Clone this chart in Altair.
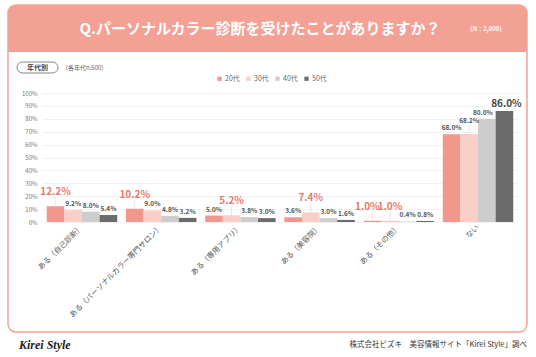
import altair as alt
import pandas as pd

categories = ["ある（自己診断）", "ある（パーソナルカラー専門サロン）", "ある（専用アプリ）",
              "ある（美容院）", "ある（その他）", "ない"]
ages = ["20代", "30代", "40代", "50代"]
v20 = [12.2, 10.2, 5.0, 3.6, 1.0, 68.0]
v30 = [9.2, 9.0, 5.2, 7.4, 1.0, 68.2]
v40 = [8.0, 4.8, 3.8, 3.0, 0.4, 80.0]
v50 = [5.4, 3.2, 3.0, 1.6, 0.8, 86.0]
colors = ["#F1978B", "#F9CEC7", "#CDCDCD", "#6B6B6B"]
y_ticks = [0, 10, 20, 30, 40, 50, 60, 70, 80, 90, 100]

title_text = "Q.パーソナルカラー診断を受けたことがありますか？"
n_text = "（N：2,000）"
tag_text = "年代別"
sub_text = "（各年代n:500）"
logo_text = "Kirei Style"
source_text = "株式会社ビズキ　美容情報サイト「Kirei Style」調べ"

FONT = "Noto Sans CJK JP"
SALMON = "#F4A195"

rows = []
series = [v20, v30, v40, v50]
for ci, cat in enumerate(categories):
    vals = [s[ci] for s in series]
    mx = max(vals)
    n_hi = sum(1 for v in vals if v == mx)
    for ai, age in enumerate(ages):
        v = vals[ai]
        hi = v == mx
        lifted = (hi and cat != "ない") or (cat == "ない" and age == "30代")
        nudge = hi and n_hi > 1 and ai == 0
        right_hi = ai < 3 and vals[ai + 1] == mx
        nudge_small = (not hi) and (not lifted) and right_hi and cat == "ない"
        rows.append({"cat": cat, "age": age, "value": v, "label": f"{v:.1f}%",
                     "hi": hi, "lifted": lifted, "nudge": nudge, "nudge_small": nudge_small,
                     "hicolor": "#444444" if age == "50代" else "#E9786C"})
df = pd.DataFrame(rows)

xenc = alt.X("cat:N", sort=categories,
             scale=alt.Scale(paddingInner=0.11, paddingOuter=0.06),
             axis=alt.Axis(title=None, labelAngle=-45, labelAlign="right", labelBaseline="middle",
                           ticks=False, domain=False, labelPadding=4, labelFontSize=7.5,
                           labelColor="#555555", labelFont=FONT, labelLimit=0, grid=False))
yenc = alt.Y("value:Q", scale=alt.Scale(domain=[0, 100]),
             axis=alt.Axis(title=None, values=y_ticks, labelExpr="datum.value + '%'",
                           ticks=False, domain=False, labelFontSize=6, labelColor="#777777",
                           labelFont=FONT, labelPadding=5, gridColor="#EEEEEE", gridWidth=0.8))
xoff = alt.XOffset("age:N", sort=ages, scale=alt.Scale(paddingInner=0, paddingOuter=0))

base = alt.Chart(df)

bars = base.mark_bar().encode(
    x=xenc, y=yenc, xOffset=xoff,
    color=alt.Color("age:N", sort=ages, scale=alt.Scale(domain=ages, range=colors),
                    legend=alt.Legend(title=None, orient="none", legendX=174, legendY=-18,
                                      direction="horizontal", symbolType="square", symbolSize=18,
                                      labelFontSize=7, labelColor="#666666", labelFont=FONT,
                                      columnPadding=5, labelOffset=2,
                                      symbolStrokeWidth=0))
)

normal = base.transform_filter("!datum.hi && !datum.lifted && !datum.nudge_small").mark_text(
    baseline="bottom", dy=-3, fontSize=6.5, fontWeight="bold", color="#555555", font=FONT
).encode(x=xenc, y=yenc, xOffset=xoff, text="label:N")

normal_nudge = base.transform_filter("datum.nudge_small").mark_text(
    baseline="bottom", dy=-3, dx=-4, fontSize=6.5, fontWeight="bold", color="#555555", font=FONT
).encode(x=xenc, y=yenc, xOffset=xoff, text="label:N")

lifted_small = base.transform_filter("datum.lifted && !datum.hi").mark_text(
    baseline="bottom", dy=-10, fontSize=6.5, fontWeight="bold", color="#555555", font=FONT
).encode(x=xenc, y=yenc, xOffset=xoff, text="label:N")

hi_lift = base.transform_filter("datum.hi && datum.lifted && !datum.nudge").mark_text(
    baseline="bottom", dy=-9, fontSize=10, fontWeight="bold", font=FONT
).encode(x=xenc, y=yenc, xOffset=xoff, text="label:N",
         color=alt.Color("hicolor:N", scale=None))

hi_nudge = base.transform_filter("datum.nudge").mark_text(
    baseline="bottom", dy=-9, dx=-5, fontSize=10, fontWeight="bold", font=FONT
).encode(x=xenc, y=yenc, xOffset=xoff, text="label:N",
         color=alt.Color("hicolor:N", scale=None))

hi_flat = base.transform_filter("datum.hi && !datum.lifted").mark_text(
    baseline="bottom", dy=-2, dx=2, fontSize=10, fontWeight="bold", font=FONT
).encode(x=xenc, y=yenc, xOffset=xoff, text="label:N",
         color=alt.Color("hicolor:N", scale=None))

leaders = base.transform_filter("datum.lifted").mark_rule(
    color="#DDDDDD", strokeWidth=0.7, y2Offset=-9
).encode(x=xenc, xOffset=xoff, y=yenc, y2="value:Q")

one = pd.DataFrame({"k": [0]})
card = alt.Chart(one).mark_rect(fill="white", fillOpacity=0, stroke=SALMON, strokeWidth=1.5, cornerRadius=8).encode(
    x=alt.value(-34), x2=alt.value(485), y=alt.value(-88), y2=alt.value(239))
header = alt.Chart(one).mark_rect(fill=SALMON, cornerRadiusTopLeft=8, cornerRadiusTopRight=8).encode(
    x=alt.value(-34), x2=alt.value(485), y=alt.value(-88), y2=alt.value(-41))
pill = alt.Chart(one).mark_rect(fill="white", stroke="#666666", strokeWidth=0.8, cornerRadius=6).encode(
    x=alt.value(-25), x2=alt.value(16), y=alt.value(-31), y2=alt.value(-20))

def txt(text, x, y, **kw):
    return alt.Chart(pd.DataFrame({"t": [text]})).mark_text(font=FONT, **kw).encode(
        x=alt.value(x), y=alt.value(y), text="t:N")

title = txt(title_text, 218, -64, fontSize=15, fontWeight="bold", color="white", align="center",
            baseline="middle")
ntext = txt(n_text, 444, -64, fontSize=6, fontWeight="bold", color="white", align="center", baseline="middle")
tag = txt(tag_text, -4.5, -25.5, fontSize=7, fontWeight="bold", color="#444444", align="center", baseline="middle")
sub = txt(sub_text, 20, -25.5, fontSize=6, color="#666666", align="left", baseline="middle")
logo = alt.Chart(pd.DataFrame({"t": [logo_text]})).mark_text(
    font="Liberation Serif", fontStyle="italic", fontWeight="bold", fontSize=12,
    color="#222222", align="left", baseline="middle").encode(
    x=alt.value(-23), y=alt.value(252), text="t:N")
source = txt(source_text, 485, 252, fontSize=7.5, color="#333333", align="right", baseline="middle")

chart = alt.layer(
    card, header, pill, title, ntext, tag, sub, logo, source,
    bars, leaders, normal, normal_nudge, lifted_small, hi_lift, hi_nudge, hi_flat
).properties(
    width=476, height=129,
    autosize=alt.AutoSizeParams(type="none"),
    padding={"left": 42, "top": 93, "right": 18, "bottom": 135},
    background="white"
).configure_view(stroke=None)

chart.save("out.html", embed_options={"renderer": "svg", "actions": False})
